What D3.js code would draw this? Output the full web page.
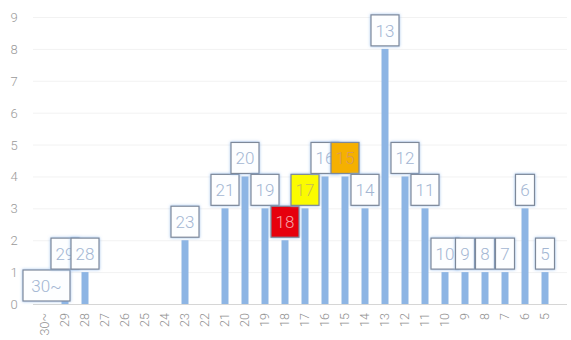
<!DOCTYPE html>
<html>
<head>
<meta charset="utf-8">
<script src="https://cdn.jsdelivr.net/npm/d3@7"></script>
<style>
  body { margin: 0; background: #fff; }
  svg { display: block; }
</style>
</head>
<body>
<svg width="571" height="340"></svg>
<script>
// categories left to right, counts, and label highlight colours
var categories = ["30~", "29", "28", "27", "26", "25", "24", "23", "22", "21", "20", "19", "18",
                  "17", "16", "15", "14", "13", "12", "11", "10", "9", "8", "7", "6", "5"];
var counts = [0, 1, 1, 0, 0, 0, 0, 2, 0, 3, 4, 3, 2, 3, 4, 4, 3, 8, 4, 3, 1, 1, 1, 1, 3, 1];
var labelled = ["30~", "29", "28", "23", "21", "20", "19", "18", "17", "16", "15", "14",
                "13", "12", "11", "10", "9", "8", "7", "6", "5"];
var highlight = {"18": "#e6000e", "17": "#fbfb00", "15": "#f5b000"};
var highlightText = {"18": "#f4a6a6", "17": "#c8bb55", "15": "#d99a55"};
var yTicks = [0, 1, 2, 3, 4, 5, 6, 7, 8, 9];

var svg = d3.select("svg");
var plotLeft = 33, plotRight = 567, plotTop = 17, plotBottom = 304;

var x = d3.scaleBand().domain(categories).range([35, 555]).paddingInner(0.65).paddingOuter(0.325);
var y = d3.scaleLinear().domain([0, 9]).range([plotBottom, plotTop]);

var defs = svg.append("defs");
var f = defs.append("filter").attr("id", "glow").attr("x", "-30%").attr("y", "-30%").attr("width", "160%").attr("height", "160%");
f.append("feDropShadow").attr("dx", 0).attr("dy", 0).attr("stdDeviation", 1.6)
  .attr("flood-color", "#8fb8ea").attr("flood-opacity", 0.9);

// grid
var grid = svg.append("g").attr("transform", "translate(" + plotLeft + ",0)")
  .call(d3.axisLeft(y).tickValues(yTicks).tickSize(-(plotRight - plotLeft)).tickFormat(""));
grid.select(".domain").remove();
grid.selectAll("line").attr("stroke", "#f2f2f2");
grid.selectAll("line").filter(function (d) { return d === 0; }).attr("stroke", "#d6d6d6");

// y labels
svg.append("g").selectAll("text").data(yTicks).enter().append("text")
  .attr("x", 14).attr("y", function (d) { return y(d) + 5; })
  .attr("text-anchor", "middle")
  .attr("font-family", "Roboto, sans-serif").attr("font-weight", 300)
  .attr("font-size", "13px").attr("fill", "#9a9a9a")
  .text(function (d) { return d; });

// x labels
svg.append("g").selectAll("text").data(categories).enter().append("text")
  .attr("transform", function (d) { return "translate(" + (x(d) + x.bandwidth() / 2 + 4) + "," + 313 + ") rotate(-90)"; })
  .attr("text-anchor", "end")
  .attr("font-family", "Roboto, sans-serif").attr("font-weight", 300)
  .attr("font-size", "12.5px").attr("fill", "#8f8f8f")
  .text(function (d) { return d; });

// bars
var data = categories.map(function (c, i) { return {cat: c, v: counts[i]}; });
svg.append("g").selectAll("rect").data(data).enter().append("rect")
  .attr("x", function (d) { return x(d.cat); })
  .attr("width", x.bandwidth())
  .attr("y", function (d) { return y(d.v); })
  .attr("height", function (d) { return y(0) - y(d.v); })
  .attr("fill", "#8db5e4");

// value labels
var lab = svg.append("g").selectAll("g").data(data.filter(function (d) { return labelled.indexOf(d.cat) >= 0; }))
  .enter().append("g")
  .attr("transform", function (d) { return "translate(" + (x(d.cat) + x.bandwidth() / 2) + "," + (y(d.v) - 3) + ")"; });

lab.each(function (d) {
  var g = d3.select(this);
  var w = d.cat.length === 1 ? 19 : (d.cat.length === 2 ? 28 : 47);
  var dx = d.cat === "30~" ? 1.5 : 0;
  g.append("rect")
    .attr("x", -w / 2 + dx).attr("y", -31)
    .attr("width", w).attr("height", 31)
    .attr("fill", highlight[d.cat] || "#fdfeff")
    .attr("stroke", "#7d8899").attr("stroke-width", 1.2)
    .attr("filter", "url(#glow)");
  g.append("text")
    .attr("x", dx).attr("y", -9)
    .attr("text-anchor", "middle")
    .attr("font-family", "Roboto, sans-serif").attr("font-weight", 300)
    .attr("font-size", "17px")
    .attr("fill", highlightText[d.cat] || "#a3b6d3")
    .text(d.cat);
});
</script>
</body>
</html>
